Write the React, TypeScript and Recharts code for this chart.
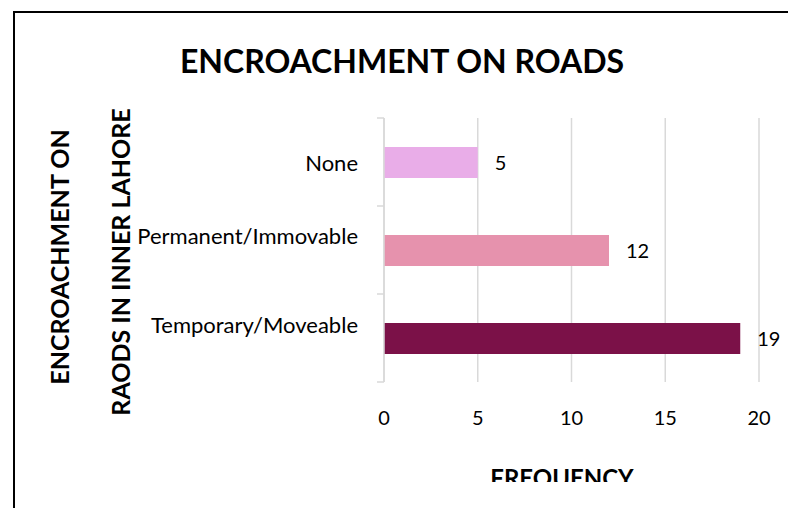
import React from "react";
import { BarChart, Bar, XAxis, YAxis, CartesianGrid, Cell, LabelList } from "recharts";

const categories = ["None", "Permanent/Immovable", "Temporary/Moveable"];
const frequency = [5, 12, 19];
const barColors = ["#E9ADE8", "#E692AD", "#7B1148"];
const xTicks = [0, 5, 10, 15, 20];

const data = categories.map((c, i) => ({ name: c, value: frequency[i] }));

const FONT = "Lato, 'Open Sans', sans-serif";
const W = 788;
const H = 482;
const M = { top: 118, right: 29, bottom: 0, left: 0 };
const XAXIS_H = 100;
const BAND = (H - M.top - M.bottom - XAXIS_H) / categories.length;
const LABEL_DY = [0, -15, -14];

const YTick = (props: any) => {
  const { x, y, payload, index } = props;
  const axisX = x + 8;
  const half = BAND / 2;
  return (
    <g>
      <line x1={axisX - 7} x2={axisX} y1={y - half} y2={y - half} stroke="#d9d9d9" strokeWidth={1.5} />
      {index === categories.length - 1 && (
        <line x1={axisX - 7} x2={axisX} y1={y + half} y2={y + half} stroke="#d9d9d9" strokeWidth={1.5} />
      )}
      <text
        x={axisX - 26}
        y={y + (LABEL_DY[index] || 0)}
        textAnchor="end"
        dominantBaseline="central"
        fontFamily={FONT}
        fontSize={22}
        fill="#000"
      >
        {payload.value}
      </text>
    </g>
  );
};

const XTick = (props: any) => {
  const { x, payload } = props;
  return (
    <text
      x={x}
      y={417}
      textAnchor="middle"
      dominantBaseline="central"
      fontFamily={FONT}
      fontSize={20}
      fill="#000"
    >
      {payload.value}
    </text>
  );
};

export default function App() {
  return (
    <div style={{ position: "fixed", left: 0, top: 0, width: W, height: 508, background: "#fff", overflow: "hidden" }}>
      <div
        style={{
          position: "absolute",
          left: 13,
          top: 11,
          width: 800,
          height: 520,
          borderLeft: "2px solid #000",
          borderTop: "2px solid #000",
        }}
      />
      <div style={{ position: "absolute", left: 0, top: 0, width: W, height: H, overflow: "hidden" }}>
        <BarChart
          width={W}
          height={H}
          data={data}
          layout="vertical"
          margin={M}
        >
          <CartesianGrid horizontal={false} stroke="#d9d9d9" strokeWidth={1.5} />
          <XAxis
            type="number"
            domain={[0, 20]}
            ticks={xTicks}
            height={XAXIS_H}
            axisLine={false}
            tickLine={false}
            tick={<XTick />}
            interval={0}
          />
          <YAxis
            type="category"
            dataKey="name"
            width={384}
            axisLine={{ stroke: "#d9d9d9", strokeWidth: 1.5 }}
            tickLine={false}
            tick={<YTick />}
            tickSize={0}
            tickMargin={8}
            interval={0}
          />
          <Bar dataKey="value" barSize={31} isAnimationActive={false}>
            {data.map((d, i) => (
              <Cell key={d.name} fill={barColors[i]} />
            ))}
            <LabelList
              dataKey="value"
              position="right"
              offset={17}
              fontFamily={FONT}
              fontSize={20}
              fill="#000"
            />
          </Bar>
        </BarChart>
        <svg width={W} height={H} style={{ position: "absolute", left: 0, top: 0, pointerEvents: "none" }}>
          <text x={402} y={60} textAnchor="middle" dominantBaseline="central" fontFamily={FONT} fontWeight="bold" fontSize={32} fill="#000">
            ENCROACHMENT ON ROADS
          </text>
          <text
            transform="translate(59,257) rotate(-90)"
            textAnchor="middle"
            dominantBaseline="central"
            fontFamily={FONT}
            fontWeight="bold"
            fontSize={25}
            fill="#000"
          >
            ENCROACHMENT ON
          </text>
          <text
            transform="translate(120,262) rotate(-90)"
            textAnchor="middle"
            dominantBaseline="central"
            fontFamily={FONT}
            fontWeight="bold"
            fontSize={25}
            fill="#000"
          >
            RAODS IN INNER LAHORE
          </text>
          <text x={562} y={477} textAnchor="middle" dominantBaseline="central" fontFamily={FONT} fontWeight="bold" fontSize={24} fill="#000">
            FREQUENCY
          </text>
        </svg>
      </div>
    </div>
  );
}
